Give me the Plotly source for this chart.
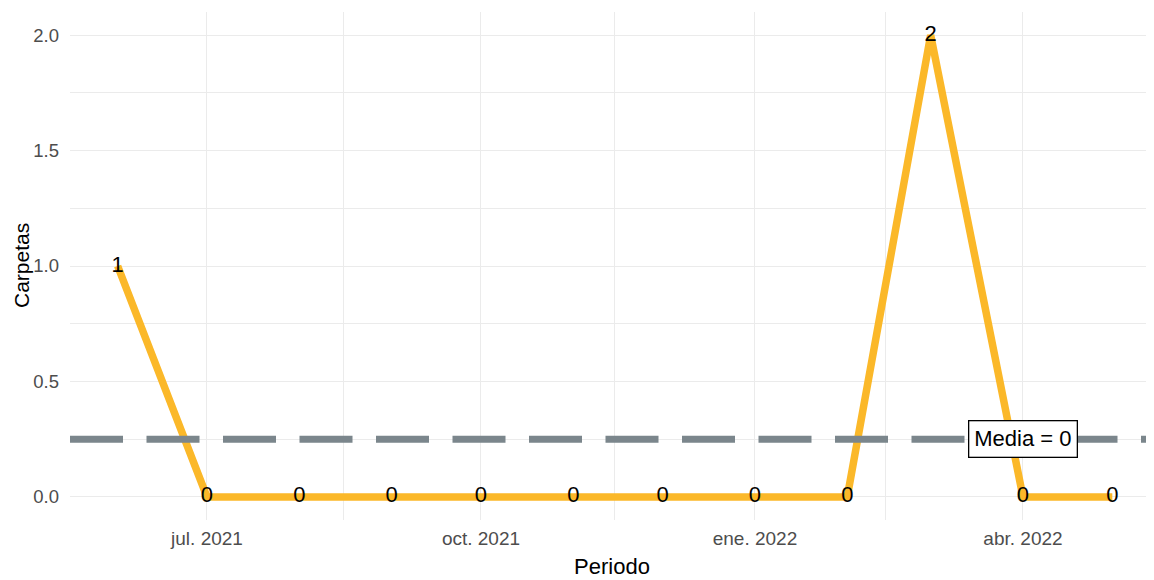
import numpy as np
import plotly.graph_objects as go

# ---- data ----
periodos = ["2021-06-01", "2021-07-01", "2021-08-01", "2021-09-01", "2021-10-01",
            "2021-11-01", "2021-12-01", "2022-01-01", "2022-02-01", "2022-03-01",
            "2022-04-01", "2022-05-01"]
carpetas = [1, 0, 0, 0, 0, 0, 0, 0, 0, 2, 0, 0]

x_tick_vals = ["2021-07-01", "2021-10-01", "2022-01-01", "2022-04-01"]
x_tick_text = ["jul. 2021", "oct. 2021", "ene. 2022", "abr. 2022"]
x_minor_vals = ["2021-05-16", "2021-08-16", "2021-11-15", "2022-02-14"]
y_tick_vals = [0, 0.5, 1.0, 1.5, 2.0]
y_tick_text = ["0.0", "0.5", "1.0", "1.5", "2.0"]
y_minor_vals = [0.25, 0.75, 1.25, 1.75]

media = float(np.mean(carpetas))
media_label = f"Media = {int(round(media))}"
label_x = periodos[-2]

FONT = "Liberation Sans, Arial, sans-serif"
GRID = "#EBEBEB"

fig = go.Figure()
fig.add_trace(go.Scatter(
    x=periodos, y=carpetas, mode="lines+text",
    line=dict(color="#FBB829", width=7.5),
    text=[str(v) for v in carpetas], textposition="middle center",
    textfont=dict(family=FONT, size=22, color="black"),
    hoverinfo="skip", showlegend=False,
))

fig.add_shape(type="line", xref="paper", yref="y", x0=0, x1=1, y0=media, y1=media,
              line=dict(color="#7B868C", width=7, dash="53px,23.5px"), layer="above")

fig.add_annotation(x=label_x, y=media, xref="x", yref="y", text=media_label,
                   showarrow=False, font=dict(family=FONT, size=22, color="black"),
                   bgcolor="white", bordercolor="black", borderwidth=1.3, borderpad=5)

# y-axis title placed as a rotated annotation left of the tick labels
fig.add_annotation(x=0, y=0.5, xref="paper", yref="paper", xanchor="center",
                   yanchor="middle", xshift=-49, textangle=-90, text="Carpetas",
                   showarrow=False, font=dict(family=FONT, size=21, color="black"))

# page body has an 8px default margin: figure sized to fill the rest of the window
fig.update_layout(
    width=1146, height=572,
    margin=dict(l=62, r=0, t=4, b=60),
    paper_bgcolor="white", plot_bgcolor="white",
    font=dict(family=FONT),
    xaxis=dict(
        type="date", range=["2021-05-16", "2022-05-15"], automargin=False,
        tickmode="array", tickvals=x_tick_vals, ticktext=x_tick_text,
        tickfont=dict(size=19, color="#4D4D4D"),
        showgrid=True, gridcolor=GRID, gridwidth=1.4,
        minor=dict(tickmode="array", tickvals=x_minor_vals, showgrid=True,
                   gridcolor=GRID, gridwidth=1.4, ticks=""),
        zeroline=False, showline=False, ticks="", ticklabelstandoff=5,
        title=dict(text="Periodo", font=dict(size=22, color="black"), standoff=10),
    ),
    yaxis=dict(
        range=[-0.1, 2.1], automargin=False,
        tickmode="array", tickvals=y_tick_vals, ticktext=y_tick_text,
        tickfont=dict(size=18.5, color="#4D4D4D"),
        showgrid=True, gridcolor=GRID, gridwidth=1.4,
        minor=dict(tickmode="array", tickvals=y_minor_vals, showgrid=True,
                   gridcolor=GRID, gridwidth=1.4, ticks=""),
        zeroline=False, showline=False, ticks="", ticklabelstandoff=10,
    ),
)

fig.write_html("out.html")
